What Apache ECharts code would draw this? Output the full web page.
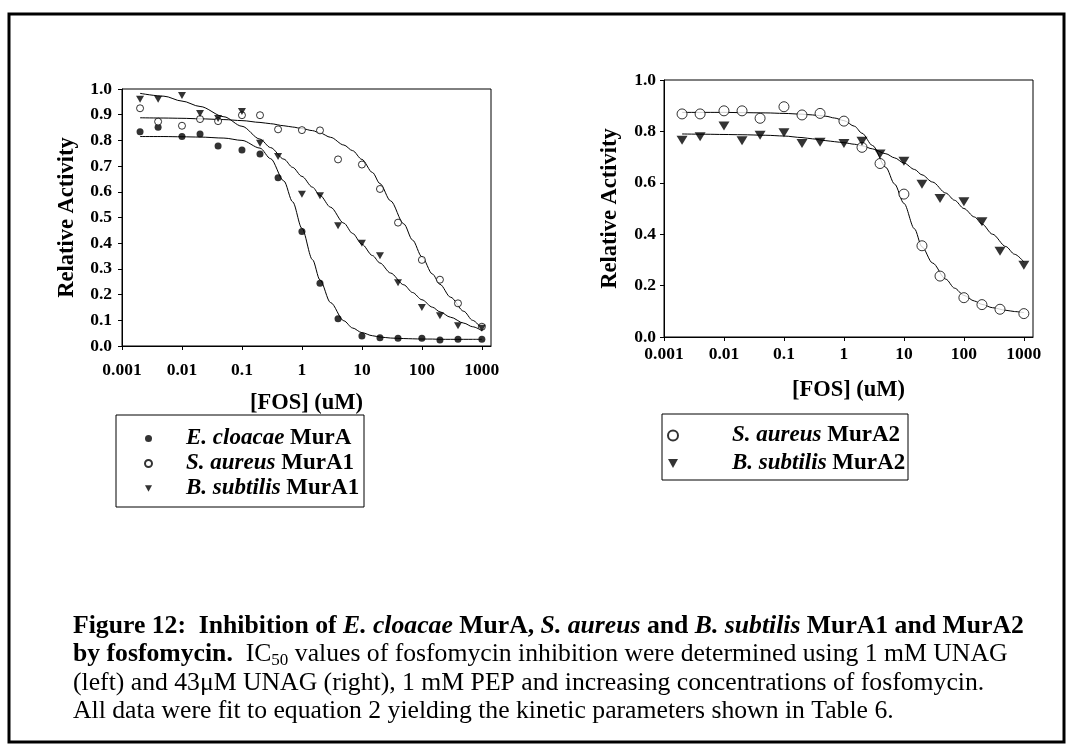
<!DOCTYPE html>
<html>
<head>
<meta charset="utf-8">
<script src="https://cdn.jsdelivr.net/npm/echarts@6/dist/echarts.min.js"></script>
<style>
html, body { margin: 0; padding: 0; background: #fff; }
#box1 { width: 1072px; height: 755px; }
</style>
</head>
<body>
<div id="box1"></div>
<script>
// fosfomycin concentrations (uM) used for the measured points
var conc = [0.002, 0.004, 0.01, 0.02, 0.04, 0.1, 0.2, 0.4, 1, 2, 4, 10, 20, 40, 100, 200, 400, 1000];

// left panel (1 mM UNAG)
var ecloacaeA   = [0.834, 0.851, 0.815, 0.825, 0.778, 0.763, 0.747, 0.655, 0.446, 0.244, 0.106, 0.039, 0.032, 0.030, 0.030, 0.023, 0.026, 0.026];
var saureusA1   = [0.925, 0.873, 0.857, 0.883, 0.875, 0.898, 0.898, 0.843, 0.840, 0.839, 0.726, 0.706, 0.611, 0.480, 0.335, 0.258, 0.166, 0.075];
var bsubtilisA1 = [0.960, 0.960, 0.975, 0.905, 0.885, 0.912, 0.789, 0.737, 0.590, 0.585, 0.468, 0.400, 0.351, 0.246, 0.150, 0.118, 0.079, 0.069];

// right panel (43 uM UNAG)
var saureusA2   = [0.868, 0.868, 0.880, 0.880, 0.851, 0.896, 0.864, 0.870, 0.840, 0.738, 0.675, 0.556, 0.355, 0.237, 0.153, 0.126, 0.108, 0.091];
var bsubtilisA2 = [0.766, 0.779, 0.821, 0.764, 0.785, 0.795, 0.753, 0.758, 0.753, 0.762, 0.712, 0.684, 0.594, 0.539, 0.526, 0.448, 0.334, 0.279];

// fitted curves
var fitConc = [0.002, 0.005, 0.01, 0.02, 0.05, 0.1, 0.2, 0.3, 0.5, 0.7, 1, 1.5, 2, 3, 5, 7, 10, 15, 20, 30, 50, 70, 100, 150, 200, 300, 500, 700, 1000];
var fitEcloacaeA   = [0.815, 0.815, 0.814, 0.813, 0.809, 0.800, 0.770, 0.729, 0.642, 0.561, 0.458, 0.336, 0.257, 0.169, 0.098, 0.070, 0.052, 0.040, 0.035, 0.031, 0.029, 0.028, 0.027, 0.027, 0.026, 0.026, 0.026, 0.026, 0.026];
var fitSaureusA1   = [0.888, 0.887, 0.886, 0.884, 0.881, 0.877, 0.870, 0.865, 0.857, 0.852, 0.846, 0.838, 0.829, 0.812, 0.782, 0.760, 0.726, 0.675, 0.632, 0.565, 0.475, 0.412, 0.347, 0.280, 0.240, 0.190, 0.135, 0.100, 0.066];
var fitBsubtilisA1 = [0.983, 0.972, 0.953, 0.932, 0.892, 0.855, 0.805, 0.772, 0.727, 0.695, 0.660, 0.618, 0.586, 0.540, 0.478, 0.438, 0.396, 0.352, 0.323, 0.284, 0.238, 0.208, 0.180, 0.151, 0.133, 0.112, 0.089, 0.075, 0.060];
var fitSaureusA2   = [0.874, 0.874, 0.874, 0.873, 0.872, 0.870, 0.867, 0.864, 0.859, 0.852, 0.842, 0.820, 0.793, 0.745, 0.660, 0.595, 0.520, 0.421, 0.351, 0.288, 0.225, 0.190, 0.162, 0.140, 0.127, 0.114, 0.104, 0.099, 0.095];
var fitBsubtilisA2 = [0.790, 0.789, 0.788, 0.787, 0.785, 0.782, 0.776, 0.771, 0.764, 0.760, 0.756, 0.750, 0.744, 0.732, 0.713, 0.697, 0.677, 0.652, 0.631, 0.603, 0.560, 0.532, 0.500, 0.467, 0.440, 0.400, 0.352, 0.322, 0.292];

var xTickLabels = ['0.001', '0.01', '0.1', '1', '10', '100', '1000'];

var FONT = 'Liberation Serif';
var TRI = 'path://M0,0L10,0L5,9Z';

function pairs(xs, ys) {
    return xs.map(function (x, i) { return [x, ys[i]]; });
}

function xLabel(v) {
    var e = Math.log10(v);
    var k = Math.round(e);
    if (Math.abs(e - k) > 1e-6) return '';
    return xTickLabels[k + 3] || '';
}

function xAxisOpt(idx, gap, labelMargin) {
    return {
        gridIndex: idx, type: 'log', logBase: 10, min: 0.001, max: 1420,
        name: '[FOS] (uM)', nameLocation: 'middle', nameGap: gap,
        nameTextStyle: { fontFamily: FONT, fontWeight: 'bold', fontSize: 22.5, color: '#000' },
        axisLine: { lineStyle: { color: '#000', width: 1 } },
        axisTick: { show: true, length: 4, inside: false, lineStyle: { color: '#000' } },
        minorTick: { show: false },
        splitLine: { show: false },
        axisLabel: { formatter: xLabel, margin: labelMargin, fontFamily: FONT, fontWeight: 'bold', fontSize: 17.5, color: '#000', showMaxLabel: false, hideOverlap: false }
    };
}

function yAxisOpt(idx, interval, gap, labelMargin) {
    return {
        gridIndex: idx, type: 'value', min: 0, max: 1, interval: interval,
        name: 'Relative Activity', nameLocation: 'middle', nameGap: gap,
        nameTextStyle: { fontFamily: FONT, fontWeight: 'bold', fontSize: 22.5, color: '#000' },
        axisLine: { show: true, lineStyle: { color: '#000', width: 1 } },
        axisTick: { show: true, length: 4, lineStyle: { color: '#000' } },
        splitLine: { show: false },
        axisLabel: { formatter: function (v) { return v.toFixed(1); }, margin: labelMargin, fontFamily: FONT, fontWeight: 'bold', fontSize: 17.5, color: '#000' }
    };
}

function dots(name, idx, ys, symbol, size, filled) {
    return {
        name: name, type: 'scatter', xAxisIndex: idx, yAxisIndex: idx, z: 5,
        data: pairs(conc, ys), symbol: symbol, symbolSize: size,
        itemStyle: filled ? { color: '#000' } : { color: '#fff', borderColor: '#000', borderWidth: 1 }
    };
}

function fit(name, idx, ys) {
    return {
        name: name, type: 'line', xAxisIndex: idx, yAxisIndex: idx, z: 2,
        data: pairs(fitConc, ys), showSymbol: false, symbol: 'none',
        smooth: 0.3, smoothMonotone: 'x',
        lineStyle: { color: '#000', width: 1 }
    };
}

function legendFmt(name) {
    var p = name.split(' ');
    return '{s|}{i|' + p[0] + ' ' + p[1] + '}{b| ' + p[2] + '}';
}

function legendOpt(left, top, itemW, gap, spacer, names) {
    var rich = {
        s: { width: spacer },
        i: { fontFamily: FONT, fontStyle: 'italic', fontWeight: 'bold', fontSize: 23, lineHeight: 24, color: '#000' },
        b: { fontFamily: FONT, fontWeight: 'bold', fontSize: 23, lineHeight: 24, color: '#000' }
    };
    return {
        left: left, top: top, orient: 'vertical', padding: 0,
        itemWidth: itemW, itemHeight: itemW, itemGap: gap,
        data: names, formatter: legendFmt, selectedMode: false,
        textStyle: { rich: rich }
    };
}

var myChart = echarts.init(document.getElementById('box1'));

var option = {
    animation: false,
    backgroundColor: '#fff',
    grid: [
        { left: 122, top: 89, width: 369, height: 257, show: true, borderColor: '#000', borderWidth: 1, backgroundColor: 'transparent' },
        { left: 664, top: 80, width: 369, height: 257, show: true, borderColor: '#000', borderWidth: 1, backgroundColor: 'transparent' }
    ],
    xAxis: [xAxisOpt(0, 46, 15), xAxisOpt(1, 42, 8)],
    yAxis: [yAxisOpt(0, 0.1, 43, 10), yAxisOpt(1, 0.2, 42, 8)],
    legend: [
        legendOpt(144, 427, 7, 2, 29, ['E. cloacae MurA', 'S. aureus MurA1', 'B. subtilis MurA1']),
        legendOpt(667, 424, 10, 5, 49, ['S. aureus MurA2', 'B. subtilis MurA2'])
    ],
    series: [
        fit('fit E. cloacae MurA', 0, fitEcloacaeA),
        fit('fit S. aureus MurA1', 0, fitSaureusA1),
        fit('fit B. subtilis MurA1', 0, fitBsubtilisA1),
        dots('E. cloacae MurA', 0, ecloacaeA, 'circle', 7, true),
        dots('S. aureus MurA1', 0, saureusA1, 'circle', 7, false),
        dots('B. subtilis MurA1', 0, bsubtilisA1, TRI, [8, 7], true),
        fit('fit S. aureus MurA2', 1, fitSaureusA2),
        fit('fit B. subtilis MurA2', 1, fitBsubtilisA2),
        dots('S. aureus MurA2', 1, saureusA2, 'circle', 10, false),
        dots('B. subtilis MurA2', 1, bsubtilisA2, TRI, [11, 9], true)
    ],
    graphic: [
        { type: 'rect', shape: { x: 9, y: 14, width: 1055, height: 728 }, style: { fill: 'none', stroke: '#000', lineWidth: 3 }, silent: true },
        { type: 'rect', shape: { x: 116, y: 415, width: 248, height: 92 }, style: { fill: 'none', stroke: '#000', lineWidth: 1 }, silent: true },
        { type: 'rect', shape: { x: 662, y: 414, width: 246, height: 66 }, style: { fill: 'none', stroke: '#000', lineWidth: 1 }, silent: true },
        {
            type: 'text', left: 73, top: 613, silent: true,
            style: {
                text: '{b|Figure 12:  Inhibition of }{bi|E. cloacae}{b| MurA, }{bi|S. aureus}{b| and }{bi|B. subtilis}{b| MurA1 and MurA2}\n' +
                      '{b|by fosfomycin.}{r|  IC}{sub|50}{r| values of fosfomycin inhibition were determined using 1 mM UNAG}\n' +
                      '{r|(left) and 43\u03bcM UNAG (right), 1 mM PEP and increasing concentrations of fosfomycin.}\n' +
                      '{r|All data were fit to equation 2 yielding the kinetic parameters shown in Table 6.}',
                rich: {
                    b: { fontFamily: FONT, fontWeight: 'bold', fontSize: 25.7, lineHeight: 28.4, fill: '#000' },
                    bi: { fontFamily: FONT, fontWeight: 'bold', fontStyle: 'italic', fontSize: 25.7, lineHeight: 28.4, fill: '#000' },
                    r: { fontFamily: FONT, fontSize: 25.7, lineHeight: 28.4, fill: '#000' },
                    sub: { fontFamily: FONT, fontSize: 17, lineHeight: 28.4, fill: '#000', verticalAlign: 'bottom', padding: [9, 0, 0, 0] }
                }
            }
        }
    ]
};

myChart.setOption(option);
window.addEventListener('resize', function () {
    myChart.resize();
});
</script>
</body>
</html>
